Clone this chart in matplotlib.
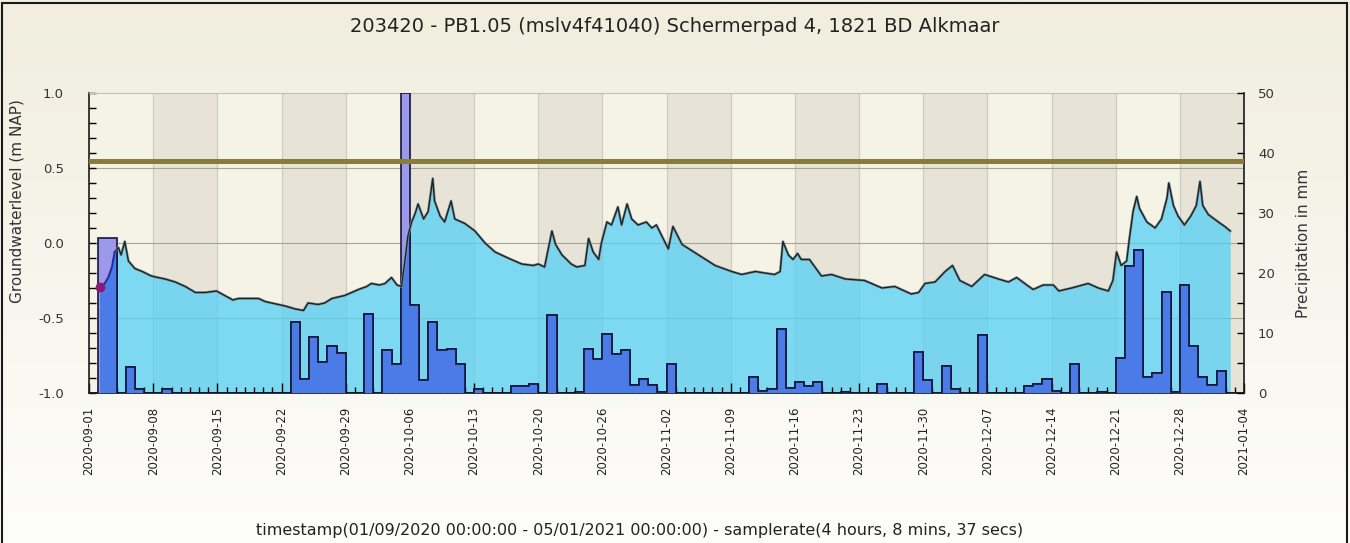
import numpy as np
import matplotlib
matplotlib.use('Agg')
import matplotlib.pyplot as plt
from matplotlib.patches import Rectangle
from matplotlib.ticker import MultipleLocator, FormatStrFormatter, FixedLocator

plt.rcParams['font.family'] = ['DejaVu Sans']
plt.rcParams['axes.unicode_minus'] = False

# days since 2020-09-01
tick_labels = ['2020-09-01', '2020-09-08', '2020-09-15', '2020-09-22', '2020-09-29',
               '2020-10-06', '2020-10-13', '2020-10-20', '2020-10-26', '2020-11-02',
               '2020-11-09', '2020-11-16', '2020-11-23', '2020-11-30', '2020-12-07',
               '2020-12-14', '2020-12-21', '2020-12-28', '2021-01-04']
n_days = 126

# first few hours of the logger (blue piece + marker)
start_day = [1.2, 1.7, 2.1, 2.5, 2.8]
start_level = [-0.29, -0.27, -0.23, -0.16, -0.06]

gw_day = [2.8, 3.2, 3.5, 3.9, 4.3, 5.0, 5.8, 6.8, 7.5, 8.3, 9.4, 10.5, 11.6, 12.7, 13.9,
          14.8, 15.7, 16.3, 17.0, 18.5, 19.2, 19.9, 21.4, 22.5, 23.4, 23.9, 25.0, 25.7,
          26.5, 27.9, 29.4, 30.3, 30.8, 31.7, 32.3, 33.0, 33.6, 34.1, 34.5, 34.8, 35.2,
          35.6, 35.9, 36.5, 37.0, 37.5, 37.7, 38.3, 38.8, 39.5, 39.9, 41.0, 42.1, 43.2,
          44.3, 45.7, 47.2, 48.5, 49.0, 49.7, 50.5, 50.9, 51.6, 52.6, 53.2, 54.1, 54.5,
          55.0, 55.6, 55.9, 56.5, 57.0, 57.7, 58.1, 58.7, 59.2, 59.9, 60.8, 61.4, 61.9,
          62.8, 63.2, 63.7, 64.7, 66.5, 68.3, 70.1, 71.2, 72.7, 73.7, 74.8, 75.4, 75.7,
          76.3, 76.8, 77.3, 77.7, 78.6, 79.9, 81.0, 82.5, 84.6, 86.5, 87.9, 89.7, 90.5,
          91.2, 92.3, 93.4, 94.2, 95.0, 96.3, 97.7, 99.2, 100.3, 101.2, 102.3, 103.0,
          104.1, 105.2, 105.8, 107.2, 109.0, 110.1, 111.2, 111.7, 112.1, 112.6, 113.2,
          113.5, 113.9, 114.3, 114.6, 115.4, 116.3, 117.0, 117.6, 117.8, 118.3, 118.8,
          119.5, 120.2, 120.8, 121.2, 121.5, 122.1, 123.2, 123.9, 124.5]
gw_level = [-0.06, -0.03, -0.08, 0.01, -0.12, -0.17, -0.19, -0.22, -0.23, -0.24, -0.26,
            -0.29, -0.33, -0.33, -0.32, -0.35, -0.38, -0.37, -0.37, -0.37, -0.39, -0.40,
            -0.42, -0.44, -0.45, -0.40, -0.41, -0.40, -0.37, -0.35, -0.31, -0.29, -0.27,
            -0.28, -0.27, -0.23, -0.28, -0.29, -0.10, 0.05, 0.14, 0.20, 0.26, 0.16, 0.21,
            0.43, 0.28, 0.18, 0.14, 0.28, 0.16, 0.13, 0.08, 0.00, -0.06, -0.10, -0.14,
            -0.15, -0.14, -0.16, 0.08, -0.01, -0.08, -0.14, -0.16, -0.15, 0.03, -0.06,
            -0.11, 0.00, 0.14, 0.12, 0.24, 0.12, 0.26, 0.16, 0.12, 0.14, 0.10, 0.12, 0.01,
            -0.04, 0.11, -0.01, -0.08, -0.15, -0.19, -0.21, -0.19, -0.20, -0.21, -0.19,
            0.01, -0.08, -0.11, -0.07, -0.11, -0.11, -0.22, -0.21, -0.24, -0.25, -0.30,
            -0.29, -0.34, -0.33, -0.27, -0.26, -0.19, -0.15, -0.25, -0.29, -0.21, -0.24,
            -0.26, -0.23, -0.28, -0.31, -0.28, -0.28, -0.32, -0.30, -0.27, -0.30, -0.32,
            -0.25, -0.06, -0.15, -0.12, 0.03, 0.21, 0.31, 0.23, 0.14, 0.10, 0.16, 0.30,
            0.40, 0.25, 0.18, 0.12, 0.18, 0.25, 0.41, 0.25, 0.19, 0.14, 0.11, 0.08]

surface_level = 0.547

rain_day = [1, 2, 4, 5, 8, 22, 23, 24, 25, 26, 27, 30, 32, 33, 34, 35, 36, 37, 38, 39, 40,
            42, 46, 47, 48, 50, 53, 54, 55, 56, 57, 58, 59, 60, 61, 62, 63, 72, 73, 74, 75,
            76, 77, 78, 79, 82, 86, 90, 91, 93, 94, 97, 102, 103, 104, 105, 107, 110, 112,
            113, 114, 115, 116, 117, 118, 119, 120, 121, 122, 123]
rain_mm = [25.8, 25.8, 4.3, 0.7, 0.7, 11.9, 2.4, 9.3, 5.2, 7.9, 6.6, 13.2, 7.1, 4.9, 50.0,
           14.7, 2.1, 11.8, 7.1, 7.3, 4.8, 0.7, 1.2, 1.2, 1.5, 13.0, 0.2, 7.3, 5.7, 9.9,
           6.5, 7.1, 1.4, 2.3, 1.4, 0.2, 4.8, 2.6, 0.4, 0.7, 10.7, 0.9, 1.8, 1.2, 1.8, 0.2,
           1.5, 6.8, 2.1, 4.5, 0.7, 9.7, 1.2, 1.5, 2.3, 0.4, 4.8, 0.2, 5.9, 21.1, 23.8, 2.6,
           3.4, 16.9, 0.2, 18.0, 7.9, 2.6, 1.4, 3.6]

title = '203420 - PB1.05 (mslv4f41040) Schermerpad 4, 1821 BD Alkmaar'
xlabel = 'timestamp(01/09/2020 00:00:00 - 05/01/2021 00:00:00) - samplerate(4 hours, 8 mins, 37 secs)'

fig = plt.figure(figsize=(13.5, 5.43), dpi=100)

# background gradient beige -> white
bg = fig.add_axes([0, 0, 1, 1])
bg.set_zorder(-5)
grad = np.linspace(0, 1, 256)[:, None]
top_c = np.array([241, 238, 222]) / 255
bot_c = np.array([253, 253, 251]) / 255
img = top_c[None, None, :] * (1 - grad[:, :, None]) + bot_c[None, None, :] * grad[:, :, None]
bg.imshow(img, aspect='auto', extent=[0, 1, 0, 1])
bg.axis('off')
fig.patches.append(Rectangle((0.0018, -0.01), 0.996, 1.0045, transform=fig.transFigure,
                             fill=False, edgecolor='#1a1a1a', linewidth=1.5))

ax = fig.add_axes([89 / 1350, 1 - 393 / 543, (1244 - 89) / 1350, 300 / 543])
ax.set_facecolor('#F5F2E6')
ax.set_xlim(0, n_days)
ax.set_ylim(-1.0, 1.0)

# weekly bands
for w in range(1, n_days // 7, 2):
    ax.axvspan(w * 7, w * 7 + 7, color='#E7E4D7', zorder=0, lw=0)
for w in range(1, n_days // 7):
    ax.axvline(w * 7, color='#CFCCBF', lw=0.9, zorder=0.5)
for g in [-0.5, 0.0, 0.5]:
    ax.axhline(g, color='#A6A496', lw=0.8, zorder=0.5)

all_day = start_day + gw_day[1:]
all_level = start_level + gw_level[1:]
area = ax.fill_between(all_day, all_level, -1.0, color='#55D0F5', alpha=0.75, lw=0, zorder=1)

ax.yaxis.set_major_locator(MultipleLocator(0.5))
ax.yaxis.set_minor_locator(MultipleLocator(0.1))
ax.yaxis.set_major_formatter(FormatStrFormatter('%.1f'))
ax.xaxis.set_major_locator(FixedLocator(np.arange(0, n_days + 1, 7)))
ax.xaxis.set_minor_locator(MultipleLocator(1))
ax.set_xticklabels(tick_labels, rotation=90, fontsize=8.5, color='#222222')
ax.tick_params(axis='x', which='major', direction='in', length=7, width=1, pad=10)
ax.tick_params(axis='x', which='minor', direction='in', length=4, width=1)
ax.tick_params(axis='y', which='both', direction='in', length=5, width=1, labelsize=9.5,
               labelcolor='#333333', pad=18)
ax.set_ylabel('Groundwaterlevel (m NAP)', fontsize=11, color='#333333')
ax.yaxis.set_label_coords(-0.056, 0.64)
for s in ['left', 'bottom']:
    ax.spines[s].set_color('#1a1a1a')
    ax.spines[s].set_linewidth(1.2)
ax.spines['top'].set_color('#C4C1B2')
ax.spines['top'].set_linewidth(0.8)
ax.spines['right'].set_visible(False)

# precipitation on the right axis
ax2 = ax.twinx()
ax2.set_ylim(0, 50)
rain = np.zeros(n_days)
rain[rain_day] = rain_mm
edges = np.arange(n_days + 1)
ax2.stairs(rain, edges, fill=True, baseline=0, facecolor='#9C98EA', edgecolor='#15153a',
           linewidth=1.2, zorder=2)
inner = ax2.stairs(rain, edges, fill=True, baseline=0, facecolor='#4A7BE6',
                   edgecolor='#15153a', linewidth=1.2, zorder=3)
inner.set_clip_path(area.get_paths()[0], ax.transData)

# lines on top of bars
ax2.plot([0, n_days], [surface_level, surface_level], color='#877C3A', lw=3.6, zorder=4,
         transform=ax.transData)
ax2.plot(gw_day, gw_level, color='#8a989c', lw=1.9, zorder=5, transform=ax.transData)
ax2.plot(gw_day, gw_level, color='#14262c', lw=1.0, zorder=6, transform=ax.transData)
ax2.plot(start_day, start_level, color='#1f2c9a', lw=1.4, zorder=6, transform=ax.transData)
ax2.plot(start_day[:1], start_level[:1], 'o', color='#8a1a7a', ms=6, zorder=7,
         transform=ax.transData)
ax2.set_ylim(0, 50)

ax2.yaxis.set_major_locator(MultipleLocator(10))
ax2.yaxis.set_minor_locator(MultipleLocator(5))
ax2.tick_params(axis='y', which='both', direction='in', length=5, width=1, labelsize=9.5,
                labelcolor='#333333', pad=10)
ax2.set_ylabel('Precipitation in mm', fontsize=11, color='#333333')
ax2.yaxis.set_label_coords(1.045, 0.5)
ax2.spines['right'].set_color('#1a1a1a')
ax2.spines['right'].set_linewidth(1.2)
for s in ['left', 'top', 'bottom']:
    ax2.spines[s].set_visible(False)

fig.text(0.5, 1 - 27 / 543, title, ha='center', va='center', fontsize=14, color='#222222')
fig.text(640 / 1350, 1 - 530 / 543, xlabel, ha='center', va='center', fontsize=11.5,
         color='#222222')

fig.savefig('out.png', dpi=100)
